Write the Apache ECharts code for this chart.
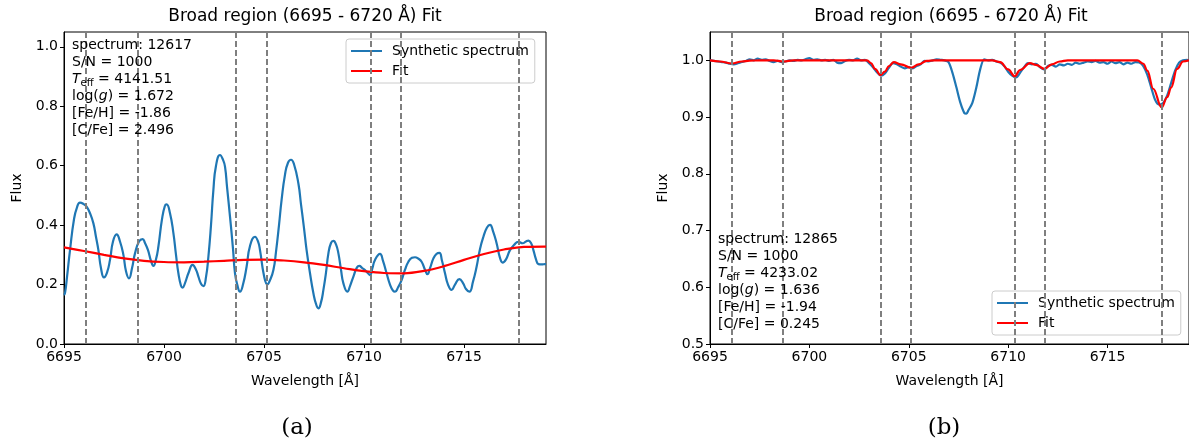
<!DOCTYPE html>
<html>
<head>
<meta charset="utf-8">
<script src="https://cdn.jsdelivr.net/npm/echarts@6/dist/echarts.min.js"></script>
<style>html,body{margin:0;padding:0;background:#fff;}#c{width:1189px;height:440px;}</style>
</head>
<body>
<div id="c"></div>
<script>
// ---------- data ----------
const titleText = 'Broad region (6695 - 6720 Å) Fit';
const xTicks = [6695, 6700, 6705, 6710, 6715];
const yTicksA = [0.0, 0.2, 0.4, 0.6, 0.8, 1.0];
const yTicksB = [0.5, 0.6, 0.7, 0.8, 0.9, 1.0];
const lineCenters = [6696.08, 6698.68, 6703.58, 6705.12, 6710.35, 6711.85, 6717.73];

const spectrumA = [
[6695.0,0.165],[6695.05,0.171],[6695.15,0.225],[6695.3,0.316],[6695.5,0.420],[6695.65,0.460],[6695.8,0.476],[6696.0,0.470],
[6696.13,0.462],[6696.3,0.440],[6696.47,0.406],[6696.6,0.360],[6696.72,0.316],[6696.85,0.255],[6697.0,0.224],
[6697.15,0.240],[6697.3,0.283],[6697.45,0.345],[6697.63,0.369],[6697.8,0.345],[6697.97,0.300],[6698.1,0.245],
[6698.25,0.221],[6698.4,0.255],[6698.55,0.305],[6698.75,0.345],[6698.93,0.353],[6699.05,0.340],[6699.2,0.316],
[6699.35,0.280],[6699.47,0.263],[6699.6,0.285],[6699.72,0.328],[6699.9,0.420],[6700.05,0.466],[6700.13,0.470],
[6700.3,0.440],[6700.47,0.373],[6700.6,0.300],[6700.72,0.238],[6700.85,0.196],[6700.93,0.190],[6701.05,0.205],
[6701.22,0.238],[6701.43,0.266],[6701.6,0.250],[6701.72,0.227],[6701.85,0.203],[6701.97,0.195],[6702.1,0.225],
[6702.22,0.294],[6702.35,0.400],[6702.47,0.519],[6702.6,0.600],[6702.8,0.636],[6702.95,0.620],[6703.05,0.597],
[6703.15,0.530],[6703.3,0.429],[6703.45,0.320],[6703.55,0.238],[6703.68,0.195],[6703.8,0.176],[6703.95,0.200],
[6704.13,0.260],[6704.3,0.330],[6704.55,0.361],[6704.7,0.345],[6704.8,0.316],[6705.0,0.230],[6705.17,0.201],
[6705.3,0.215],[6705.47,0.249],[6705.6,0.310],[6705.75,0.400],[6705.88,0.485],[6706.05,0.570],[6706.2,0.610],
[6706.35,0.620],[6706.5,0.605],[6706.72,0.540],[6706.85,0.470],[6707.0,0.390],[6707.13,0.316],[6707.3,0.238],
[6707.47,0.171],[6707.6,0.135],[6707.72,0.120],[6707.85,0.140],[6707.97,0.182],[6708.1,0.240],[6708.22,0.305],
[6708.35,0.340],[6708.47,0.347],[6708.6,0.335],[6708.72,0.305],[6708.85,0.250],[6708.97,0.204],[6709.17,0.176],
[6709.3,0.195],[6709.47,0.227],[6709.65,0.258],[6709.77,0.263],[6709.9,0.256],[6710.05,0.249],[6710.2,0.238],
[6710.3,0.232],[6710.42,0.255],[6710.55,0.283],[6710.8,0.303],[6710.95,0.280],[6711.13,0.238],[6711.3,0.200],
[6711.45,0.180],[6711.55,0.176],[6711.7,0.190],[6711.88,0.215],[6712.05,0.250],[6712.22,0.277],[6712.4,0.290],
[6712.55,0.292],[6712.72,0.287],[6712.88,0.277],[6713.05,0.250],[6713.17,0.235],[6713.3,0.255],[6713.47,0.288],
[6713.62,0.303],[6713.77,0.307],[6713.9,0.280],[6714.05,0.238],[6714.2,0.200],[6714.38,0.182],[6714.55,0.200],
[6714.77,0.218],[6714.95,0.205],[6715.1,0.185],[6715.27,0.176],[6715.45,0.210],[6715.63,0.260],[6715.8,0.320],
[6715.97,0.361],[6716.15,0.392],[6716.3,0.401],[6716.45,0.380],[6716.63,0.339],[6716.8,0.290],[6716.93,0.274],
[6717.1,0.285],[6717.3,0.316],[6717.5,0.333],[6717.72,0.344],[6717.93,0.339],[6718.1,0.345],[6718.22,0.348],
[6718.35,0.340],[6718.47,0.316],[6718.6,0.285],[6718.72,0.269],[6718.9,0.268],[6719.05,0.269],[6719.1,0.269]
];
const fitA = [
[6695.0,0.325],[6696.0,0.313],[6697.0,0.300],[6698.0,0.288],[6699.0,0.280],[6700.0,0.276],[6701.0,0.275],
[6702.0,0.277],[6703.0,0.280],[6704.0,0.283],[6705.0,0.284],[6706.0,0.281],[6707.0,0.275],[6708.0,0.266],
[6709.0,0.255],[6710.0,0.245],[6711.0,0.239],[6712.0,0.238],[6713.0,0.246],[6714.0,0.262],[6715.0,0.283],
[6716.0,0.303],[6717.0,0.318],[6718.0,0.327],[6719.0,0.328],[6719.1,0.328]
];

const spectrumB = [
[6695.0,1.000],[6695.2,0.999],[6695.4,0.998],[6695.6,0.997],[6695.8,0.996],[6696.0,0.994],[6696.2,0.993],
[6696.4,0.995],[6696.6,0.997],[6696.8,0.999],[6697.0,1.002],[6697.2,1.000],[6697.4,1.003],[6697.6,1.001],
[6697.8,1.002],[6698.0,0.999],[6698.2,0.997],[6698.4,0.999],[6698.6,0.997],[6698.8,0.998],[6699.0,1.000],
[6699.2,0.999],[6699.4,1.001],[6699.6,1.000],[6699.8,1.002],[6700.0,1.004],[6700.2,1.001],[6700.4,1.002],
[6700.6,1.000],[6700.8,1.001],[6701.0,0.999],[6701.2,1.001],[6701.4,0.996],[6701.6,0.995],[6701.8,0.999],
[6702.0,1.001],[6702.2,1.000],[6702.4,1.003],[6702.6,1.000],[6702.8,1.001],[6703.0,0.995],[6703.2,0.988],
[6703.4,0.979],[6703.6,0.973],[6703.8,0.977],[6704.0,0.987],[6704.2,0.995],[6704.4,0.993],[6704.6,0.989],
[6704.8,0.986],[6705.0,0.988],[6705.2,0.986],[6705.4,0.990],[6705.6,0.993],[6705.8,0.999],[6706.0,0.998],
[6706.2,1.000],[6706.4,1.002],[6706.6,1.001],[6706.8,1.000],[6707.0,0.997],[6707.2,0.978],[6707.4,0.952],
[6707.6,0.925],[6707.8,0.907],[6707.9,0.906],[6708.0,0.912],[6708.2,0.925],[6708.4,0.952],[6708.6,0.985],
[6708.8,1.002],[6709.0,1.000],[6709.2,1.001],[6709.4,0.998],[6709.6,0.996],[6709.8,0.990],[6710.0,0.980],
[6710.2,0.973],[6710.4,0.970],[6710.6,0.978],[6710.8,0.988],[6711.0,0.995],[6711.2,0.993],[6711.4,0.994],
[6711.6,0.988],[6711.8,0.984],[6712.0,0.990],[6712.2,0.992],[6712.4,0.989],[6712.6,0.993],[6712.8,0.991],
[6713.0,0.994],[6713.2,0.992],[6713.4,0.996],[6713.6,0.994],[6713.8,0.996],[6714.0,0.998],[6714.2,0.997],
[6714.4,0.999],[6714.6,0.996],[6714.8,0.997],[6715.0,0.994],[6715.2,0.998],[6715.4,0.995],[6715.6,0.997],
[6715.8,0.993],[6716.0,0.996],[6716.2,0.994],[6716.4,0.997],[6716.6,0.996],[6716.8,0.990],[6717.0,0.975],
[6717.2,0.952],[6717.4,0.930],[6717.6,0.922],[6717.8,0.925],[6718.0,0.938],[6718.2,0.960],[6718.4,0.982],
[6718.6,0.996],[6718.8,1.000],[6719.0,1.001],[6719.1,0.999]
];
const fitB = [
[6695.0,1.000],[6695.5,0.998],[6696.1,0.9945],[6696.6,0.998],[6697.0,0.9995],[6697.5,1.000],[6698.2,1.000],
[6698.7,0.998],[6699.2,1.000],[6700.0,1.000],[6701.0,1.000],[6702.0,1.000],[6702.9,1.000],[6703.1,0.995],
[6703.3,0.985],[6703.58,0.974],[6703.8,0.980],[6704.0,0.990],[6704.25,0.997],[6704.6,0.993],[6705.12,0.987],
[6705.5,0.993],[6705.9,0.999],[6706.3,1.000],[6707.0,1.000],[6708.0,1.000],[6709.2,1.000],[6709.6,0.997],
[6710.0,0.984],[6710.33,0.972],[6710.6,0.983],[6711.1,0.995],[6711.4,0.992],[6711.83,0.985],[6712.2,0.993],
[6712.6,0.998],[6713.0,1.000],[6714.0,1.000],[6715.0,1.000],[6716.5,1.000],[6716.8,0.994],[6717.0,0.982],
[6717.3,0.950],[6717.72,0.917],[6718.0,0.935],[6718.2,0.952],[6718.5,0.985],[6718.8,0.998],[6719.1,1.000]
];

const infoA = ['spectrum: 12617', 'S/N = 1000', '4141.51', '1.672', '-1.86', '2.496'];
const infoB = ['spectrum: 12865', 'S/N = 1000', '4233.02', '1.636', '-1.94', '0.245'];

// ---------- chart ----------
const FONT = 'DejaVu Sans';
const chart = echarts.init(document.getElementById('c'), null, {renderer: 'canvas'});

function xAxisCfg(gi) {
  return {
    gridIndex: gi, type: 'value', min: 6695, max: 6719.1,
    name: 'Wavelength [Å]', nameLocation: 'middle', nameGap: 30,
    nameTextStyle: {fontFamily: FONT, fontSize: 14, color: '#000'},
    axisLine: {show: true, lineStyle: {color: '#000', width: 1}},
    axisTick: {show: true, length: 4, lineStyle: {color: '#000'}, customValues: xTicks},
    axisLabel: {fontFamily: FONT, fontSize: 14, color: '#000', margin: 6, customValues: xTicks,
      formatter: v => String(Math.round(v))},
    splitLine: {show: false}
  };
}
function yAxisCfg(gi, mn, ticks) {
  return {
    gridIndex: gi, type: 'value', min: mn, max: 1.05,
    name: 'Flux', nameLocation: 'middle', nameGap: 40,
    nameTextStyle: {fontFamily: FONT, fontSize: 14, color: '#000'},
    axisLine: {show: true, lineStyle: {color: '#000', width: 1}},
    axisTick: {show: true, length: 4, lineStyle: {color: '#000'}, customValues: ticks},
    axisLabel: {fontFamily: FONT, fontSize: 14, color: '#000', margin: 6, customValues: ticks,
      formatter: v => v.toFixed(1)},
    splitLine: {show: false}
  };
}
function markLines() {
  return {
    silent: true, symbol: 'none', label: {show: false},
    lineStyle: {color: '#7f7f7f', type: [6, 3], width: 2},
    data: lineCenters.map(v => ({xAxis: v}))
  };
}
function legendCfg(left, top) {
  return {
    orient: 'vertical', left: left, top: top,
    data: ['Synthetic spectrum', 'Fit'],
    itemWidth: 31, itemHeight: 14, itemGap: 6,
    padding: [5, 6, 5, 4],
    backgroundColor: 'rgba(255,255,255,0.8)', borderColor: '#cccccc', borderWidth: 1, borderRadius: 3,
    textStyle: {fontFamily: FONT, fontSize: 14, color: '#000', padding: [0, 0, 0, 5]},
    lineStyle: {width: 2},
    itemStyle: {opacity: 0},
    selectedMode: false
  };
}
function infoText(x, y, info, lh) {
  const rich = {
    n: {fontFamily: FONT, fontSize: 14, color: '#000', lineHeight: lh},
    i: {fontFamily: FONT, fontSize: 14, fontStyle: 'italic', color: '#000', lineHeight: lh},
    s: {fontFamily: FONT, fontSize: 10, color: '#000', lineHeight: lh, padding: [7, 0, 0, 0]}
  };
  const txt = [
    '{n|' + info[0] + '}',
    '{n|' + info[1] + '}',
    '{i|T}{s|eff}{n| = ' + info[2] + '}',
    '{n|log(}{i|g}{n|) = ' + info[3] + '}',
    '{n|[Fe/H] = ' + info[4] + '}',
    '{n|[C/Fe] = ' + info[5] + '}'
  ].join('\n');
  return {type: 'text', left: x, top: y, z: 100,
    style: {text: txt, rich: rich, fill: '#000', font: '14px ' + FONT, lineHeight: lh}};
}

const option = {
  animation: false,
  backgroundColor: '#fff',
  grid: [
    {left: 64, top: 32, width: 482, height: 312, show: true, borderColor: '#000', borderWidth: 1, backgroundColor: 'transparent'},
    {left: 710, top: 32, width: 482, height: 312, show: true, borderColor: '#000', borderWidth: 1, backgroundColor: 'transparent'}
  ],
  xAxis: [xAxisCfg(0), xAxisCfg(1)],
  yAxis: [yAxisCfg(0, 0, yTicksA), yAxisCfg(1, 0.5, yTicksB)],
  legend: [legendCfg(346, 39), legendCfg(992, 291)],
  series: [
    {name: 'Synthetic spectrum', type: 'line', xAxisIndex: 0, yAxisIndex: 0, data: spectrumA,
      showSymbol: false, symbol: 'none', smooth: 0.5,
      lineStyle: {color: '#1f77b4', width: 2.2}, itemStyle: {color: '#1f77b4'}, markLine: markLines(), z: 3},
    {name: 'Fit', type: 'line', xAxisIndex: 0, yAxisIndex: 0, data: fitA,
      showSymbol: false, symbol: 'none', smooth: 0.4,
      lineStyle: {color: '#ff0000', width: 2.2}, itemStyle: {color: '#ff0000'}, z: 4},
    {name: 'Synthetic spectrum', type: 'line', xAxisIndex: 1, yAxisIndex: 1, data: spectrumB,
      showSymbol: false, symbol: 'none', smooth: 0.3,
      lineStyle: {color: '#1f77b4', width: 2.2}, itemStyle: {color: '#1f77b4'}, markLine: markLines(), z: 3},
    {name: 'Fit', type: 'line', xAxisIndex: 1, yAxisIndex: 1, data: fitB,
      showSymbol: false, symbol: 'none', smooth: 0.4, smoothMonotone: 'x',
      lineStyle: {color: '#ff0000', width: 2.2}, itemStyle: {color: '#ff0000'}, z: 4}
  ],
  graphic: [
    {type: 'text', x: 305, y: 17, z: 100, style: {text: titleText, font: '17px ' + FONT, fill: '#000', textAlign: 'center', textVerticalAlign: 'middle'}},
    {type: 'text', x: 951, y: 17, z: 100, style: {text: titleText, font: '17px ' + FONT, fill: '#000', textAlign: 'center', textVerticalAlign: 'middle'}},
    infoText(72, 37, infoA, 17),
    infoText(718, 231, infoB, 17),
    {type: 'text', x: 297, y: 428, z: 100, style: {text: '(a)', font: '23px "DejaVu Serif"', fill: '#000', textAlign: 'center', textVerticalAlign: 'middle'}},
    {type: 'text', x: 944, y: 428, z: 100, style: {text: '(b)', font: '23px "DejaVu Serif"', fill: '#000', textAlign: 'center', textVerticalAlign: 'middle'}}
  ]
};
chart.setOption(option);
</script>
</body>
</html>
